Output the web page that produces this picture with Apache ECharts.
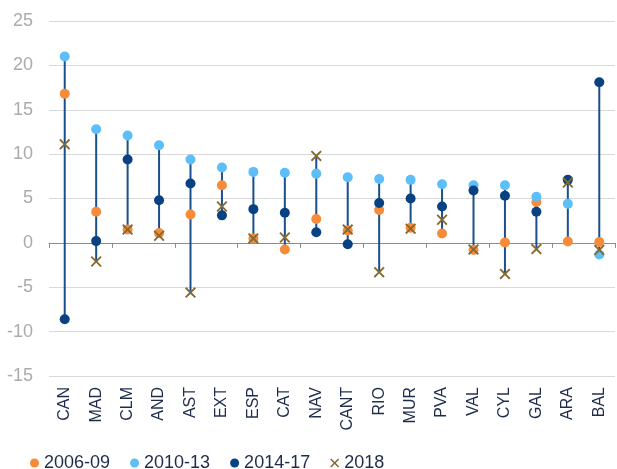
<!DOCTYPE html>
<html>
<head>
<meta charset="utf-8">
<script src="https://cdn.jsdelivr.net/npm/echarts@6/dist/echarts.min.js"></script>
<style>
html,body{margin:0;padding:0;background:#fff;}
#chart{width:617px;height:469px;}
</style>
</head>
<body>
<div id="chart"></div>
<script>
const categories = ['CAN','MAD','CLM','AND','AST','EXT','ESP','CAT','NAV','CANT','RIO','MUR','PVA','VAL','CYL','GAL','ARA','BAL'];
const s2006 = [16.8, 3.5, 1.5, 1.1, 3.2, 6.5, 0.5, -0.75, 2.7, 1.4, 3.7, 1.7, 1.05, -0.8, 0.05, 4.6, 0.15, 0.1];
const s2010 = [21.0, 12.8, 12.1, 11.0, 9.4, 8.5, 8.0, 7.9, 7.8, 7.4, 7.2, 7.1, 6.6, 6.5, 6.5, 5.2, 4.4, -1.3];
const s2014 = [-8.6, 0.2, 9.4, 4.8, 6.7, 3.1, 3.8, 3.4, 1.2, -0.15, 4.5, 5.0, 4.1, 5.9, 5.3, 3.5, 7.1, 18.1];
const s2018 = [11.1, -2.1, 1.5, 0.8, -5.6, 4.1, 0.5, 0.6, 9.8, 1.5, -3.3, 1.6, 2.6, -0.75, -3.5, -0.7, 6.8, -0.8];
const seriesNames = ['2006-09', '2010-13', '2014-17', '2018'];
const yTicks = {min: -15, max: 25, interval: 5};

const FONT = '"Liberation Sans", Arial, sans-serif';
const NAVY = '#1E2B4A';
const XPATH = 'path://M0,1.2L1.2,0L5,3.8L8.8,0L10,1.2L6.2,5L10,8.8L8.8,10L5,6.2L1.2,10L0,8.8L3.8,5Z';

const ranges = categories.map((c, i) => {
  const vals = [s2006[i], s2010[i], s2014[i], s2018[i]];
  return [i, Math.min.apply(null, vals), Math.max.apply(null, vals)];
});

const chart = echarts.init(document.getElementById('chart'), null, {renderer: 'canvas'});
chart.setOption({
  animation: false,
  backgroundColor: '#fff',
  grid: {left: 49, right: 2, top: 21, bottom: 93, containLabel: false},
  legend: {
    data: [
      {name: seriesNames[0], icon: 'circle'},
      {name: seriesNames[1], icon: 'circle'},
      {name: seriesNames[2], icon: 'circle'},
      {name: seriesNames[3], icon: XPATH}
    ],
    left: 25, top: 449,
    itemWidth: 9, itemHeight: 9, itemGap: 20,
    textStyle: {fontSize: 18, color: NAVY, fontFamily: FONT}
  },
  xAxis: [
    {
      type: 'category', data: categories, position: 'bottom',
      axisLine: {onZero: true, lineStyle: {color: '#8C8C8C', width: 1}},
      axisTick: {show: true, length: 5, lineStyle: {color: '#8C8C8C'}},
      axisLabel: {show: false},
      splitLine: {show: false}
    },
    {
      type: 'category', data: categories, position: 'bottom',
      axisLine: {show: false, onZero: false},
      axisTick: {show: false},
      axisLabel: {rotate: 90, fontSize: 16, color: NAVY, fontFamily: FONT, margin: 11, interval: 0},
      splitLine: {show: false}
    }
  ],
  yAxis: {
    type: 'value', min: yTicks.min, max: yTicks.max, interval: yTicks.interval,
    axisLine: {show: false}, axisTick: {show: false},
    axisLabel: {fontSize: 18, color: '#ABABAB', fontFamily: FONT, margin: 16},
    splitLine: {lineStyle: {color: '#D9D9D9', width: 1}}
  },
  series: [
    {
      type: 'custom', name: 'range', silent: true, z: 1,
      encode: {x: 0, y: [1, 2]},
      data: ranges,
      renderItem: function (params, api) {
        const a = api.coord([api.value(0), api.value(1)]);
        const b = api.coord([api.value(0), api.value(2)]);
        return {type: 'line', shape: {x1: a[0], y1: a[1], x2: b[0], y2: b[1]},
          style: {stroke: '#1A4F8E', lineWidth: 2}};
      }
    },
    {type: 'scatter', name: seriesNames[0], data: s2006, symbol: 'circle', symbolSize: 10, z: 3,
      itemStyle: {color: '#F68B3A', opacity: 1}},
    {type: 'scatter', name: seriesNames[1], data: s2010, symbol: 'circle', symbolSize: 10, z: 4,
      itemStyle: {color: '#5CBFFA', opacity: 1}},
    {type: 'scatter', name: seriesNames[2], data: s2014, symbol: 'circle', symbolSize: 10, z: 5,
      itemStyle: {color: '#084282', opacity: 1}},
    {type: 'scatter', name: seriesNames[3], data: s2018, symbol: XPATH, symbolSize: 11, z: 6,
      itemStyle: {color: '#86692E', opacity: 1}}
  ]
});
</script>
</body>
</html>
